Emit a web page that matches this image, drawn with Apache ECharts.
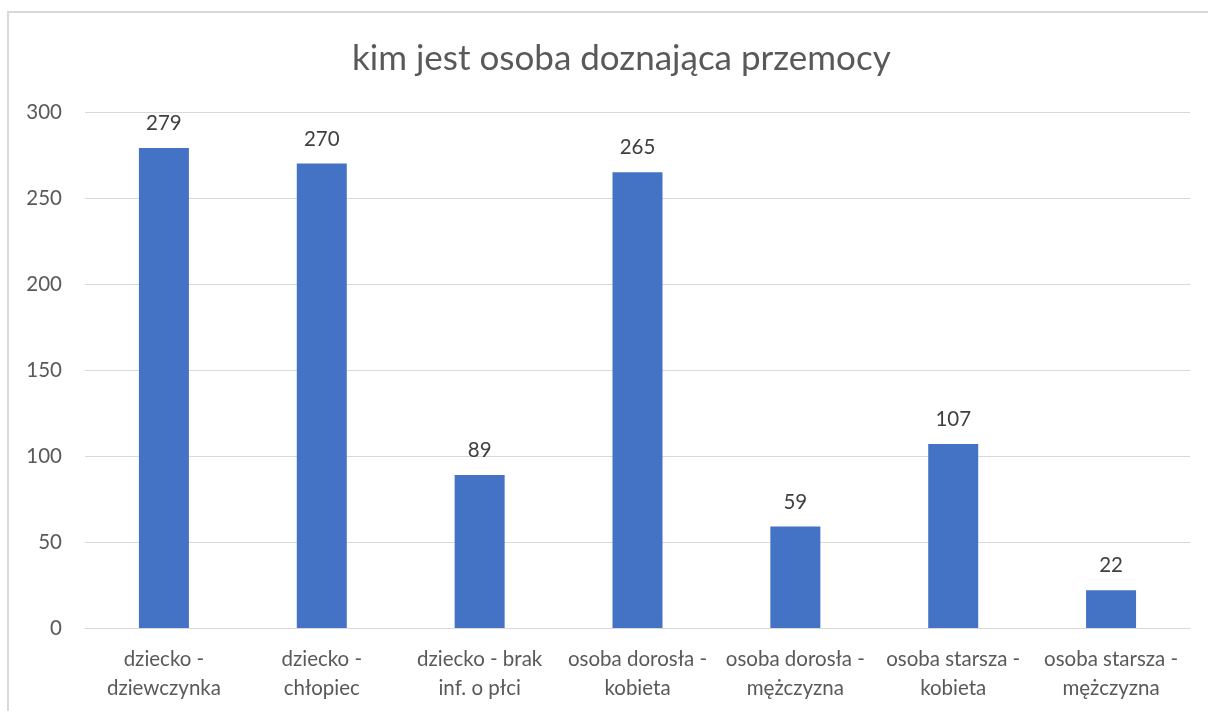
<!DOCTYPE html>
<html>
<head>
<meta charset="utf-8">
<script src="https://cdn.jsdelivr.net/npm/echarts@6/dist/echarts.min.js"></script>
<style>
  html, body { margin: 0; padding: 0; background: #fff; }
  #chart { width: 1208px; height: 711px; }
</style>
</head>
<body>
<div id="chart"></div>
<script>
// dane
const categories = [
  'dziecko -\ndziewczynka',
  'dziecko -\nchłopiec',
  'dziecko - brak\ninf. o płci',
  'osoba dorosła -\nkobieta',
  'osoba dorosła -\nmężczyzna',
  'osoba starsza -\nkobieta',
  'osoba starsza -\nmężczyzna'
];
const values = [279, 270, 89, 265, 59, 107, 22];
const titleText = 'kim jest osoba doznająca przemocy';

const FONT = 'Lato';

const myChart = echarts.init(document.getElementById('chart'));
const option = {
  backgroundColor: '#fff',
  animation: false,
  title: {
    text: titleText,
    left: 347,
    top: 36,
    textStyle: { fontFamily: FONT, fontSize: 35, fontWeight: 'normal', color: '#595959' }
  },
  // ramka wykresu (wychodzi poza prawą i dolną krawędź)
  graphic: [{
    type: 'rect',
    shape: { x: 8, y: 12, width: 1300, height: 900 },
    style: { fill: 'none', stroke: '#d9d9d9', lineWidth: 2 },
    silent: true
  }],
  grid: { left: 85, right: 18, top: 112, bottom: 83, containLabel: false },
  xAxis: {
    type: 'category',
    data: categories,
    axisLine: { lineStyle: { color: '#d9d9d9', width: 1 } },
    axisTick: { show: false },
    axisLabel: {
      interval: 0,
      margin: 17,
      fontFamily: FONT,
      fontSize: 20.5,
      lineHeight: 29,
      color: '#595959'
    }
  },
  yAxis: {
    type: 'value',
    min: 0,
    max: 300,
    interval: 50,
    axisLine: { show: false },
    axisTick: { show: false },
    splitLine: { lineStyle: { color: '#d9d9d9', width: 1 } },
    axisLabel: { margin: 23, fontFamily: FONT, fontSize: 20.5, color: '#595959' }
  },
  series: [{
    type: 'bar',
    data: values,
    barWidth: 50,
    itemStyle: { color: '#4472C4' },
    label: {
      show: true,
      position: 'top',
      distance: 14,
      fontFamily: FONT,
      fontSize: 20.5,
      color: '#404040'
    }
  }]
};
myChart.setOption(option);
</script>
</body>
</html>
